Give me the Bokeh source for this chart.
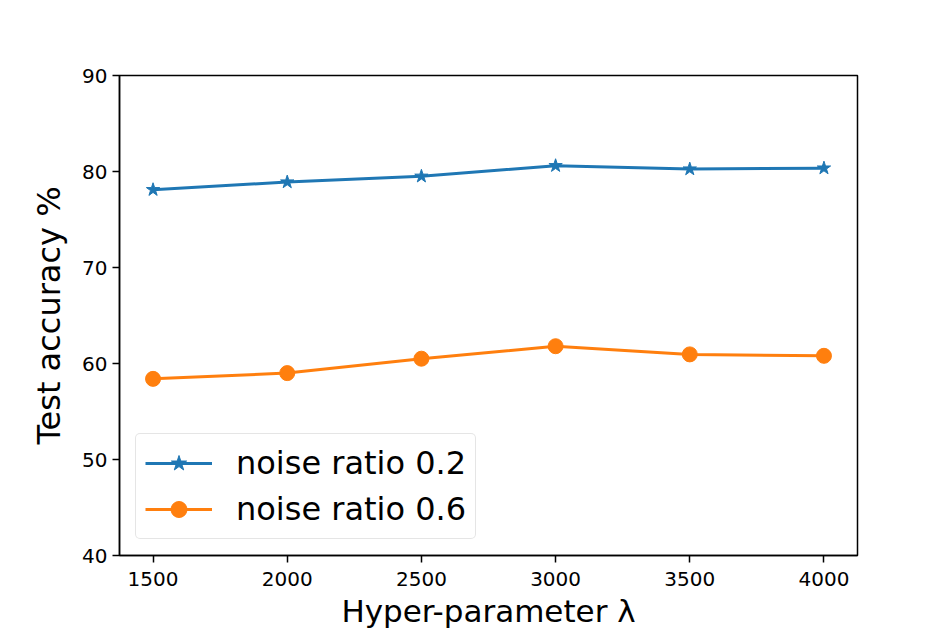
from bokeh.plotting import figure
from bokeh.models import Range1d, FixedTicker, Legend, LegendItem
from bokeh.embed import file_html
from bokeh.resources import INLINE

# ---- data ----
lambdas = [1500, 2000, 2500, 3000, 3500, 4000]
acc_noise_02 = [78.1, 78.9, 79.5, 80.6, 80.25, 80.35]
acc_noise_06 = [58.4, 59.0, 60.5, 61.8, 60.95, 60.8]
x_ticks = [1500, 2000, 2500, 3000, 3500, 4000]
y_ticks = [40, 50, 60, 70, 80, 90]
series_labels = ["noise ratio 0.2", "noise ratio 0.6"]
x_label = "Hyper-parameter λ"
y_label = "Test accuracy %"

FONT = "DejaVu Sans"
BLUE = "#1f77b4"
ORANGE = "#ff7f0e"

p = figure(width=950, height=632, output_backend="svg", toolbar_location=None,
           x_range=Range1d(1375, 4125), y_range=Range1d(40, 90),
           min_border_left=119, min_border_right=93, min_border_top=75, min_border_bottom=77)

p.background_fill_color = "white"
p.border_fill_color = "white"
p.outline_line_color = "black"
p.outline_line_width = 1.5
p.xgrid.visible = False
p.ygrid.visible = False

for ax in (p.xaxis[0], p.yaxis[0]):
    ax.axis_line_color = "black"
    ax.axis_line_width = 1.5
    ax.major_tick_line_color = "black"
    ax.major_tick_line_width = 1.5
    ax.major_tick_out = 7
    ax.major_tick_in = 0
    ax.minor_tick_out = 0
    ax.minor_tick_in = 0
    ax.major_label_text_font = FONT
    ax.major_label_text_font_size = "20px"
    ax.major_label_text_color = "black"
    ax.axis_label_text_font = FONT
    ax.axis_label_text_font_style = "normal"
    ax.axis_label_text_color = "black"

p.xaxis.axis_label_text_font_size = "31px"
p.yaxis.axis_label_text_font_size = "32px"
p.xaxis.ticker = FixedTicker(ticks=x_ticks)
p.yaxis.ticker = FixedTicker(ticks=y_ticks)
p.xaxis.axis_label = x_label
p.yaxis.axis_label = y_label
p.xaxis.major_label_standoff = 9
p.xaxis.axis_label_standoff = 4
p.yaxis.major_label_standoff = 5
p.yaxis.axis_label_standoff = 11

l1 = p.line(lambdas, acc_noise_02, line_color=BLUE, line_width=3)
m1 = p.scatter(lambdas, acc_noise_02, marker="star", size=14, fill_color=BLUE, line_color=BLUE)
l2 = p.line(lambdas, acc_noise_06, line_color=ORANGE, line_width=3)
m2 = p.scatter(lambdas, acc_noise_06, marker="circle", size=15, fill_color=ORANGE, line_color=ORANGE)

legend = Legend(items=[LegendItem(label=series_labels[0], renderers=[l1, m1]),
                       LegendItem(label=series_labels[1], renderers=[l2, m2])],
                location="bottom_left")
legend.margin = 16
legend.padding = 9
legend.spacing = 6
legend.glyph_width = 67
legend.glyph_height = 40
legend.label_height = 40
legend.label_standoff = 24
legend.label_text_font = FONT
legend.label_text_font_size = "32px"
legend.label_text_color = "black"
legend.border_line_color = "#cccccc"
legend.border_line_width = 1.5
legend.background_fill_color = "white"
legend.background_fill_alpha = 0.8
try:
    legend.border_radius = 5
except Exception:
    pass
p.add_layout(legend)

open("out.html", "w").write(file_html(p, INLINE))
